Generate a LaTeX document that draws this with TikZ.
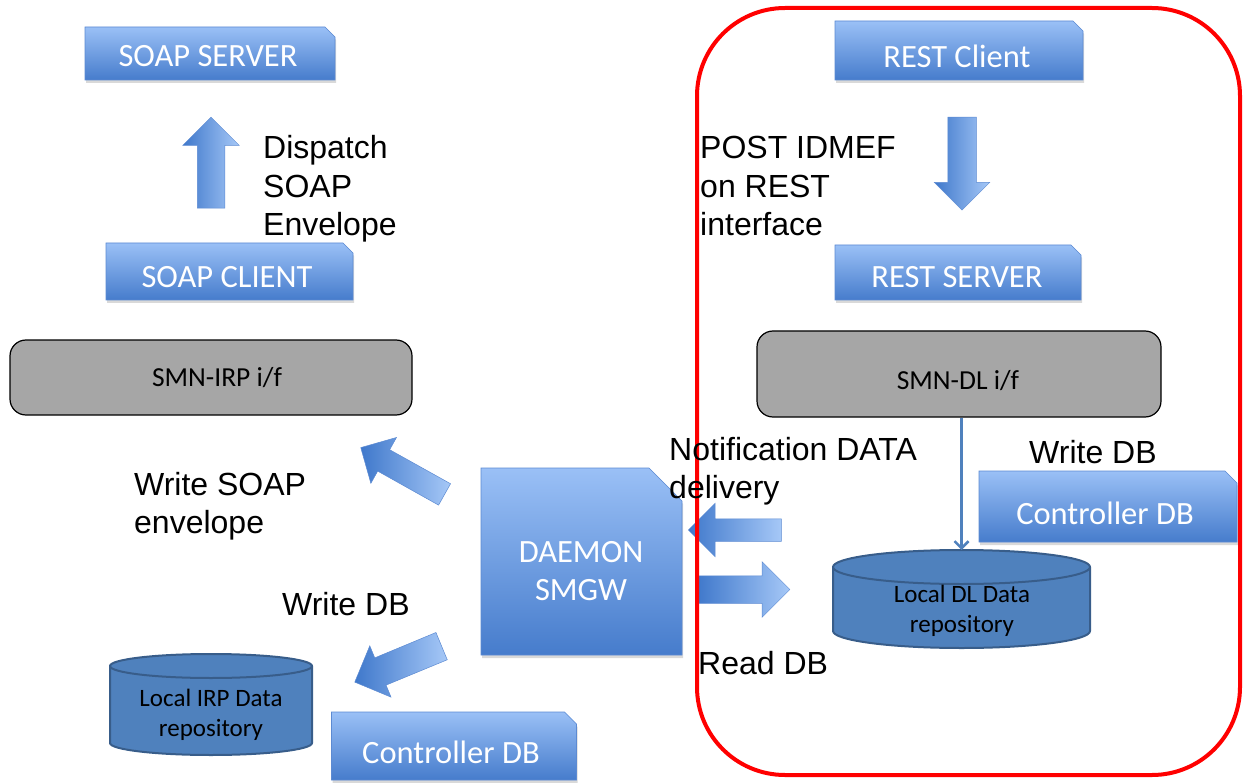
\documentclass[tikz,border=0pt]{standalone}
\usepackage{fontspec}
\setmainfont{Carlito}
\newfontfamily\arialf{Liberation Sans}
\usetikzlibrary{shapes.arrows,arrows.meta}
\definecolor{boxtop}{HTML}{9AC0F6}
\definecolor{boxbot}{HTML}{467CCC}
\definecolor{boxline}{HTML}{5C8AD2}
\definecolor{arrlight}{HTML}{A6C8F7}
\definecolor{arrdark}{HTML}{3F78CB}
\definecolor{cylfill}{HTML}{4F81BD}
\definecolor{cylline}{HTML}{385D8A}
\definecolor{grayfill}{HTML}{A6A6A6}
\definecolor{connblue}{HTML}{4F81BD}
\newcommand\snipbox[2]{%
  \fill[boxshadow] ([shift={(1pt,-3pt)}]#1.south west) -- ([shift={(1pt,-3pt)}]#1.north west)
    -- ([shift={(1pt-#2,-3pt)}]#1.north east) -- ([shift={(1pt,-3pt-#2)}]#1.north east)
    -- ([shift={(1pt,-3pt)}]#1.south east) -- cycle;
  \shade[boxshade] (#1.south west) -- (#1.north west) -- ([xshift=-#2]#1.north east)
    -- ([yshift=-#2]#1.north east) -- (#1.south east) -- cycle;
}
\newcommand\cylshape[3]{%
  \filldraw[cylstyle] (#1.north west) -- (#1.south west)
    arc[start angle=180, end angle=360, x radius=#2, y radius=#3]
    -- (#1.north east) arc[start angle=0, end angle=180, x radius=#2, y radius=#3] -- cycle;
  \draw[cylstyle] (#1.north west) arc[start angle=180, end angle=360, x radius=#2, y radius=#3];
}
\begin{document}
\begin{tikzpicture}[x=1pt,y=-1pt,
  boxanchor/.style={rectangle, inner sep=0pt, outer sep=0pt},
  boxshade/.style={top color=boxtop, bottom color=boxbot, draw=boxline, line width=0.6pt},
  boxshadow/.style={fill=black, opacity=0.15},
  wtxt/.style={text=white, font=\fontsize{32.5}{38}\selectfont, inner sep=0pt, align=center},
  btxt/.style={text=black, font=\arialf\fontsize{32}{38.5}\selectfont, inner sep=0pt, align=left, anchor=west},
  ifbox/.style={rectangle, rounded corners=16pt, fill=grayfill, draw=black, line width=1.2pt, inner sep=0pt},
  iftxt/.style={text=black, font=\fontsize{27.5}{32}\selectfont, inner sep=0pt},
  blockarrow/.style={single arrow, inner sep=0pt, outer sep=0pt, text depth=0pt, left color=arrdark, right color=arrlight, draw=boxline, line width=0.5pt},
  cylstyle/.style={fill=cylfill, draw=cylline, line width=2pt},
  cyltxt/.style={font=\fontsize{25}{30}\selectfont, align=center, inner sep=0pt, text=black},
  conn/.style={draw=connblue, line width=2.5pt, -{Straight Barb[length=7pt,width=14pt]}},
  zone/.style={draw=red, line width=4pt, rounded corners=88pt, inner sep=0pt}
]
\useasboundingbox (0,0) rectangle (1244,783);

% blue snip boxes
\node[boxanchor, minimum width=250pt, minimum height=53pt] (ss) at (210,53.5) {};
\snipbox{ss}{10pt}
\node[wtxt] (sstx) at (208,56) {SOAP SERVER};

\node[boxanchor, minimum width=247pt, minimum height=57pt] (sc) at (229.5,271.5) {};
\snipbox{sc}{10pt}
\node[wtxt] (sctx) at (227,277) {SOAP CLIENT};

\node[boxanchor, minimum width=248pt, minimum height=59pt] (rc) at (959,50.5) {};
\snipbox{rc}{10pt}
\node[wtxt] (rctx) at (957,56) {REST Client};

\node[boxanchor, minimum width=246pt, minimum height=55pt] (rs) at (958,272.5) {};
\snipbox{rs}{10pt}
\node[wtxt] (rstx) at (957,277) {REST SERVER};

\node[boxanchor, minimum width=258pt, minimum height=71pt] (cdbr) at (1108,506.5) {};
\snipbox{cdbr}{12pt}
\node[wtxt] (cdbrtx) at (1105,513) {Controller DB};

\node[boxanchor, minimum width=245pt, minimum height=68pt] (cdbb) at (454,746) {};
\snipbox{cdbb}{12pt}
\node[wtxt] (cdbbtx) at (451,752) {Controller DB};

\node[boxanchor, minimum width=201pt, minimum height=187pt] (daemon) at (581.5,561.5) {};
\snipbox{daemon}{33pt}
\node[wtxt] (daemontx) at (581,571) {DAEMON\\SMGW};

% interface boxes
\node[ifbox, minimum width=402pt, minimum height=75pt] (irpif) at (211,377.5) {};
\node[iftxt] (irpiftx) at (217,378) {SMN-IRP i/f};
\node[ifbox, minimum width=404pt, minimum height=86pt] (dlif) at (959,374) {};
\node[iftxt] (dliftx) at (958,381) {SMN-DL i/f};

% cylinders
\node[boxanchor, minimum width=257pt, minimum height=64pt] (dlbody) at (961.5,599) {};
\cylshape{dlbody}{128.5pt}{17pt}
\node[cyltxt] (dltx) at (962,611) {Local DL Data\\repository};
\node[boxanchor, minimum width=202pt, minimum height=77pt] (irpbody) at (211,704.5) {};
\cylshape{irpbody}{101pt}{12pt}
\node[cyltxt] (irptx) at (211,714.5) {Local IRP Data\\repository};

% connector
\coordinate (dltop) at ([yshift=17pt]dlbody.north);
\draw[conn] (dlif.south -| dltop) -- (dltop);

% block arrows
\node[blockarrow, rotate=90, minimum height=91pt, text height=27pt, single arrow head extend=14.5pt] (dispatchar) at (211,169.5) {};
\node[blockarrow, rotate=-90, minimum height=93pt, text height=28pt, single arrow head extend=13.5pt] (postar) at (962,156.5) {};
\node[blockarrow, rotate=180, minimum height=93pt, text height=22pt, single arrow head extend=15.5pt] (notifar) at (740.5,530) {};
\node[blockarrow, rotate=0, minimum height=93pt, text height=27pt, single arrow head extend=14pt] (readar) at (736.5,589.5) {};
\node[blockarrow, rotate=150.8, minimum height=96pt, text height=24pt, single arrow head extend=14pt] (soapar) at (408,474) {};
\node[blockarrow, rotate=202.5, minimum height=94pt, text height=29pt, single arrow head extend=13pt] (writear) at (405,661.3) {};

% red zone
\node[zone, minimum width=543pt, minimum height=767pt] (restzone) at (968.5,391.5) {};

% black labels
\node[btxt] (dispatchtx) at (263,189) {Dispatch\\SOAP\\Envelope};
\node[btxt] (posttx) at (700,186) {POST IDMEF\\on REST\\interface};
\node[btxt] (soaptx) at (134,506) {Write SOAP\\envelope};
\node[btxt] (notiftx) at (669,471) {Notification DATA\\delivery};
\node[btxt] (writeltx) at (282,604) {Write DB};
\node[btxt] (writertx) at (1029,452) {Write DB};
\node[btxt] (readtx) at (698,663) {Read DB};
\end{tikzpicture}
\end{document}
